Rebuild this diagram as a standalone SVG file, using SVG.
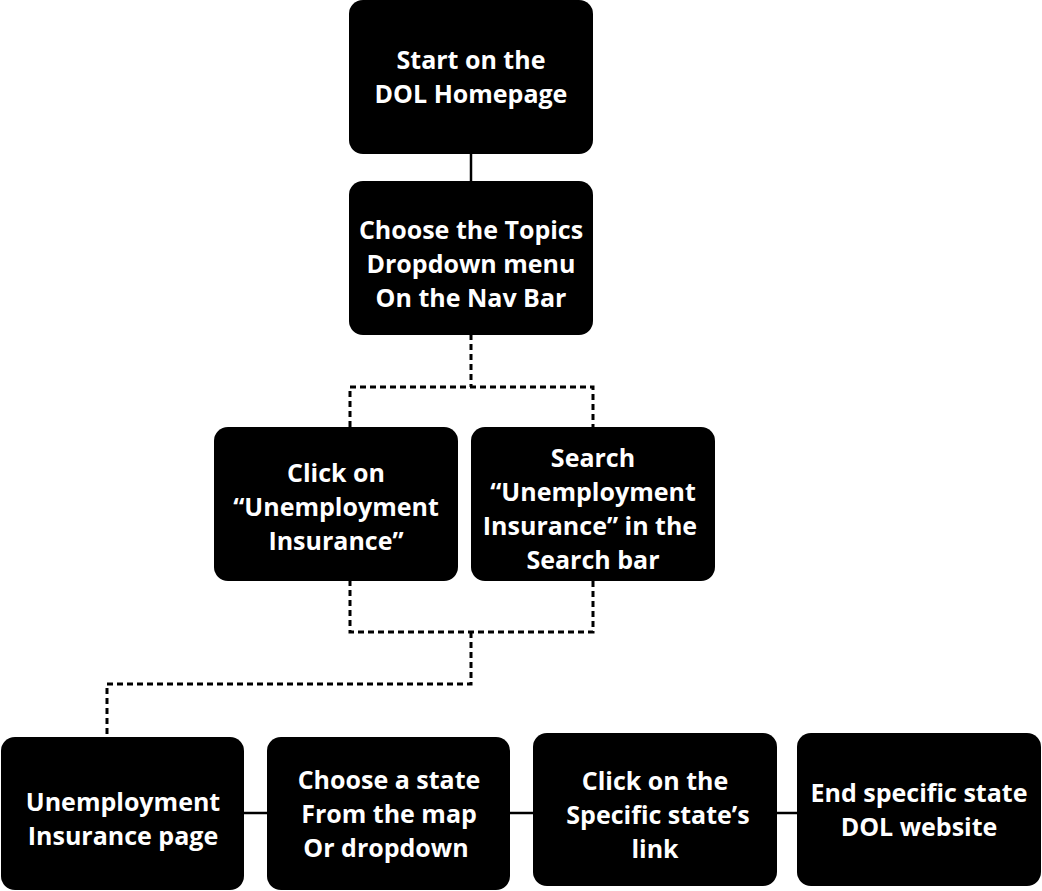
<svg xmlns="http://www.w3.org/2000/svg" width="1042" height="891" viewBox="0 0 1042 891">
<style>
.box{fill:#000}
.t{font-family:"Open Sans","Noto Sans","Liberation Sans",sans-serif;font-weight:700;font-size:25px;fill:#fff;text-anchor:middle}
.solid{stroke:#000;stroke-width:2.5;fill:none}
.dot{stroke:#000;stroke-width:3;fill:none;stroke-dasharray:6 4}
</style>
<rect width="1042" height="891" fill="#fff"/>
<g id="connectors">
<line class="solid" x1="471" y1="153" x2="471" y2="182"/>
<path class="dot" d="M471 334 V387 M350 427 V387 H593 V427"/>
<path class="dot" d="M350 580 V632 H593 V580 M471 632 V684 H107 V737"/>
<line class="solid" x1="244" y1="813" x2="267" y2="813"/>
<line class="solid" x1="510" y1="813" x2="533" y2="813"/>
<line class="solid" x1="777" y1="813" x2="797" y2="813"/>
</g>
<g id="n1"><rect class="box" x="349" y="0" width="244" height="154" rx="14"/>
<text class="t" x="471" y="69">Start on the</text><text class="t" x="471" y="103">DOL Homepage</text></g>
<g id="n2"><rect class="box" x="349" y="181" width="244" height="154" rx="14"/>
<text class="t" x="471" y="239">Choose the Topics</text><text class="t" x="471" y="273">Dropdown menu</text><text class="t" x="471" y="307">On the Nav Bar</text></g>
<g id="n3"><rect class="box" x="214" y="427" width="244" height="154" rx="14"/>
<text class="t" x="336" y="482">Click on</text><text class="t" x="336" y="516">“Unemployment</text><text class="t" x="336" y="550">Insurance”</text></g>
<g id="n4"><rect class="box" x="471" y="427" width="244" height="154" rx="14"/>
<text class="t" x="593" y="467">Search</text><text class="t" x="593" y="501">“Unemployment</text><text class="t" x="590" y="535">Insurance” in the</text><text class="t" x="593" y="569">Search bar</text></g>
<g id="n5"><rect class="box" x="1" y="737" width="243" height="153" rx="14"/>
<text class="t" x="123" y="811">Unemployment</text><text class="t" x="123" y="845">Insurance page</text></g>
<g id="n6"><rect class="box" x="267" y="737" width="243" height="153" rx="14"/>
<text class="t" x="389" y="789">Choose a state</text><text class="t" x="389" y="823">From the map</text><text class="t" x="386" y="857">Or dropdown</text></g>
<g id="n7"><rect class="box" x="533" y="733" width="244" height="153" rx="14"/>
<text class="t" x="655" y="790">Click on the</text><text class="t" x="658" y="824">Specific state’s</text><text class="t" x="655" y="858">link</text></g>
<g id="n8"><rect class="box" x="797" y="733" width="244" height="153" rx="14"/>
<text class="t" x="919" y="802">End specific state</text><text class="t" x="919" y="836">DOL website</text></g>
</svg>
